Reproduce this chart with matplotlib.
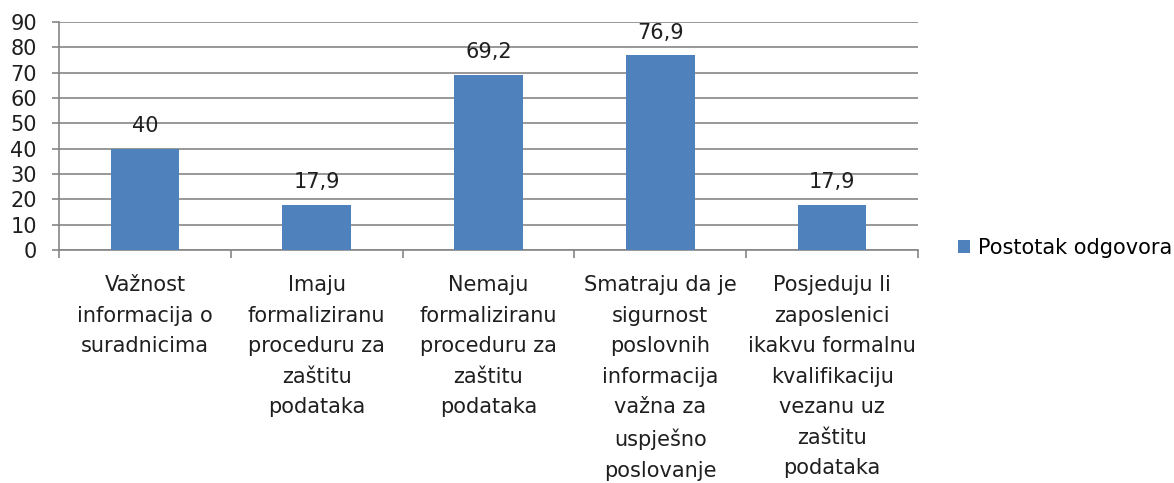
import matplotlib.pyplot as plt
import numpy as np

categories = [
    "Važnost\ninformacija o\nsuradnicima",
    "Imaju\nformaliziranu\nproceduru za\nzaštitu\npodataka",
    "Nemaju\nformaliziranu\nproceduru za\nzaštitu\npodataka",
    "Smatraju da je\nsigurnost\nposlovnih\ninformacija\nvažna za\nuspješno\nposlovanje",
    "Posjeduju li\nzaposlenici\nikakvu formalnu\nkvalifikaciju\nvezanu uz\nzaštitu\npodataka",
]
values = [40, 17.9, 69.2, 76.9, 17.9]
value_labels = ["40", "17,9", "69,2", "76,9", "17,9"]
series_name = "Postotak odgovora"

plt.rcParams['font.family'] = ['DejaVu Sans']

fig = plt.figure(figsize=(11.74, 4.83), dpi=100)
ax = fig.add_axes([59/1174, 1 - 250/483, (918 - 59)/1174, (250 - 22)/483])

grid_col = "#868686"
txt_col = "#1f1f1f"
fs = 15
x = np.arange(len(categories))
bars = ax.bar(x, values, width=0.4, color="#4F81BD", label=series_name, zorder=3)

for b, lab in zip(bars, value_labels):
    ax.annotate(lab, (b.get_x() + b.get_width()/2, b.get_height()),
                xytext=(0, 9), textcoords="offset points",
                ha="center", va="bottom", fontsize=fs, color=txt_col)

ax.set_xlim(-0.5, len(categories) - 0.5)
ax.set_ylim(0, 90)
ax.set_yticks(np.arange(0, 91, 10))
ax.yaxis.grid(True, color=grid_col, linewidth=1.2, zorder=0)

ax.set_xticks(x)
ax.set_xticklabels(categories, fontsize=fs, linespacing=1.66, color=txt_col)
ax.set_xticks(np.arange(-0.5, len(categories), 1), minor=True)
ax.tick_params(axis="x", which="major", length=0, pad=18)
ax.tick_params(axis="x", which="minor", length=6, color=grid_col, width=1.2)
ax.tick_params(axis="y", length=5, color=grid_col, width=1.2, labelsize=fs,
               labelcolor=txt_col, pad=11)

for s in ["top", "right"]:
    ax.spines[s].set_visible(False)
for s in ["left", "bottom"]:
    ax.spines[s].set_color(grid_col)
    ax.spines[s].set_linewidth(1.2)

ax.legend(loc="center left", bbox_to_anchor=(1.046, 0.01), frameon=False,
          fontsize=fs, handlelength=0.6, handleheight=0.6, handletextpad=0.4,
          borderpad=0, borderaxespad=0)

fig.savefig("out.png", dpi=100)
